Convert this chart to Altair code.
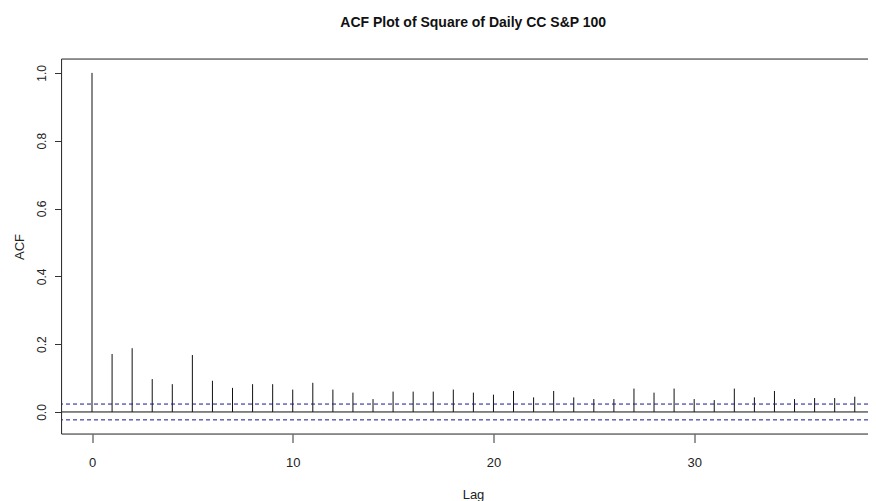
import altair as alt
import pandas as pd

# ---- data ----
lags = list(range(39))
acf_values = [1.0, 0.171, 0.188, 0.097, 0.082, 0.168, 0.092, 0.071, 0.082, 0.082,
              0.066, 0.086, 0.066, 0.057, 0.038, 0.060, 0.060, 0.060, 0.066, 0.057,
              0.051, 0.062, 0.043, 0.062, 0.043, 0.038, 0.038, 0.069, 0.057, 0.069,
              0.038, 0.035, 0.069, 0.043, 0.062, 0.038, 0.041, 0.041, 0.045]
conf_limit = 0.0233
x_ticks = [0, 10, 20, 30]
y_ticks = [0.0, 0.2, 0.4, 0.6, 0.8, 1.0]
title_text = "ACF Plot of Square of Daily CC S&P 100"

X_MIN, X_MAX = -1.52, 38.66
Y_MIN, Y_MAX = -0.065, 1.041

FONT = "Liberation Sans Narrow, Arial Narrow, Liberation Sans, Arial, sans-serif"
YFONT = "Liberation Sans, Arial, sans-serif"

df = pd.DataFrame({"lag": lags, "acf": acf_values, "base": [0.0] * len(lags)})
zero_df = pd.DataFrame({"v": [0.0]})
ci_df = pd.DataFrame({"v": [conf_limit, -conf_limit]})
hborder_df = pd.DataFrame({"v": [Y_MIN, Y_MAX]})
vborder_df = pd.DataFrame({"v": [X_MIN]})

xs = alt.Scale(domain=[X_MIN, X_MAX], nice=False, zero=False)
ys = alt.Scale(domain=[Y_MIN, Y_MAX], nice=False, zero=False)

x_axis = alt.Axis(values=x_ticks, title="Lag", grid=False, domain=False,
                  tickSize=8.5, tickColor="#333", labelPadding=24,
                  labelBaseline="alphabetic", labelFont=FONT, labelFontSize=13,
                  labelColor="#222", titleFont=FONT, titleFontSize=13,
                  titleFontWeight="normal", titleColor="#222",
                  titleBaseline="alphabetic", titleY=64, titleX=411.5,
                  titleAlign="center")
y_axis = alt.Axis(values=y_ticks, format=".1f", title="ACF", grid=False, domain=False,
                  tickSize=7, tickColor="#333", labelAngle=270, labelAlign="center",
                  labelBaseline="alphabetic", labelPadding=9.5, labelFont=YFONT,
                  labelFontSize=12, labelColor="#222", titleFont=YFONT,
                  titleFontSize=13, titleFontWeight="normal", titleColor="#222",
                  titleAngle=270, titleAlign="center", titleBaseline="alphabetic",
                  titleX=-38.2, titleY=187.5)

spikes = alt.Chart(df).mark_rule(color="#111", strokeWidth=1).encode(
    x=alt.X("lag:Q", scale=xs, axis=x_axis),
    y=alt.Y("acf:Q", scale=ys, axis=y_axis),
    y2="base:Q",
)

zero_line = alt.Chart(zero_df).mark_rule(color="#111", strokeWidth=1).encode(
    y=alt.Y("v:Q", scale=ys, axis=y_axis)
)

ci_lines = alt.Chart(ci_df).mark_rule(color="#16168f", strokeWidth=1, strokeDash=[4, 3]).encode(
    y=alt.Y("v:Q", scale=ys, axis=y_axis)
)

hborder = alt.Chart(hborder_df).mark_rule(color="#333", strokeWidth=1).encode(
    y=alt.Y("v:Q", scale=ys, axis=y_axis)
)
vborder = alt.Chart(vborder_df).mark_rule(color="#333", strokeWidth=1).encode(
    x=alt.X("v:Q", scale=xs, axis=x_axis)
)

chart = (
    alt.layer(spikes, ci_lines, zero_line, hborder, vborder)
    .properties(
        width=806.5,
        height=375,
        padding={"left": 53.5, "top": 51, "right": 0, "bottom": 67},
        autosize=alt.AutoSizeParams(type="none"),
        title=alt.TitleParams(title_text, font=FONT, fontSize=14, fontWeight="bold",
                              anchor="middle", baseline="alphabetic", offset=18,
                              dx=8.5, color="#111"),
    )
    .configure_view(stroke=None, strokeWidth=0)
    .configure(background="white")
)

chart.save("out.html", embed_options={"renderer": "svg", "actions": False})
